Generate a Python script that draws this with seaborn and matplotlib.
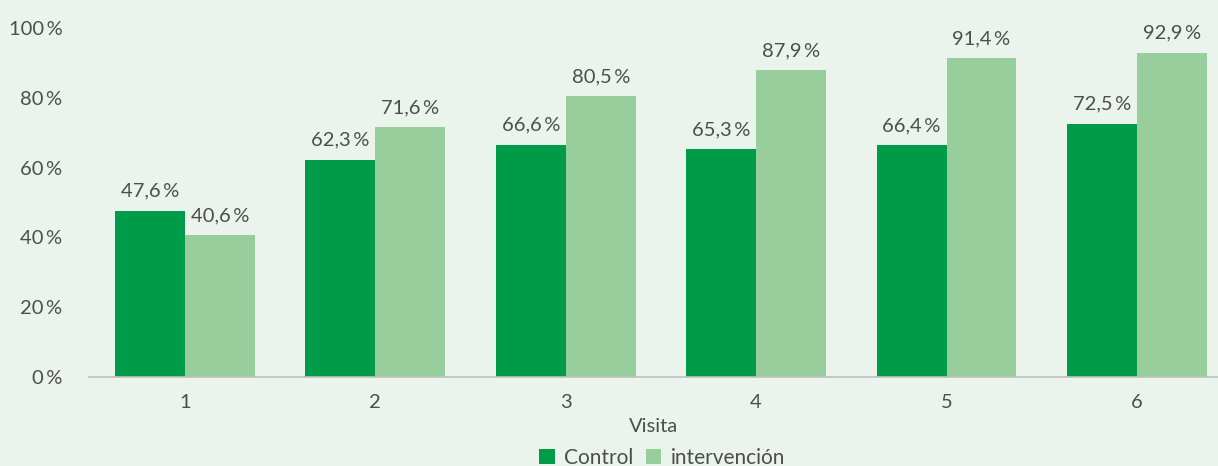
import matplotlib
matplotlib.use('Agg')
import matplotlib.pyplot as plt
import seaborn as sns
import pandas as pd

visits = ['1', '2', '3', '4', '5', '6']
control = [47.6, 62.3, 66.6, 65.3, 66.4, 72.5]
intervencion = [40.6, 71.6, 80.5, 87.9, 91.4, 92.9]
series = ['Control', 'intervención']
y_ticks = [0, 20, 40, 60, 80, 100]

bg = '#EBF4EC'
text_col = '#4D4D4D'
palette = {'Control': '#009B48', 'intervención': '#98CE9C'}

sns.set_style('white')
plt.rcParams['font.family'] = ['Lato', 'DejaVu Sans']

df = pd.DataFrame({'Visita': visits * 2,
                   'serie': [series[0]] * len(visits) + [series[1]] * len(visits),
                   'valor': control + intervencion})

fig = plt.figure(figsize=(12.18, 4.66), dpi=100, facecolor=bg)
ax = fig.add_axes([89 / 1218, 1 - 377 / 466, (1218 - 89) / 1218, (377 - 28) / 466])
ax.set_facecolor(bg)

sns.barplot(data=df, x='Visita', y='valor', hue='serie', palette=palette,
            width=0.735, gap=0, saturation=1, linewidth=0, ax=ax, legend=True)

for cont in ax.containers:
    ax.bar_label(cont, labels=[f'{b.get_height():.1f}'.replace('.', ',') + '\u2009%' for b in cont],
                 padding=8, fontsize=14.5, color=text_col, clip_on=False)

ax.set_ylim(0, 100)
ax.set_xlim(-0.504, 5.426)
ax.set_yticks(y_ticks)
ax.set_yticklabels([f'{t}\u2009%' for t in y_ticks])
ax.tick_params(axis='both', length=0, labelsize=14.5, labelcolor=text_col)
ax.tick_params(axis='y', pad=19)
ax.tick_params(axis='x', pad=12)
ax.set_ylabel('')
ax.set_xlabel('Visita', fontsize=14.5, color=text_col, labelpad=5)

for s in ['top', 'right', 'left']:
    ax.spines[s].set_visible(False)
ax.spines['bottom'].set_color('#BFBFBF')
ax.spines['bottom'].set_linewidth(1.2)

handles, labels = ax.get_legend_handles_labels()
ax.legend_.remove()
fig.legend(handles, labels, loc='center', bbox_to_anchor=(662 / 1218, 1 - 458 / 466),
           ncol=2, frameon=False, fontsize=15, labelcolor=text_col,
           handlelength=0.75, handleheight=0.75, handletextpad=0.45, columnspacing=0.6)

fig.savefig('out.png', dpi=100, facecolor=bg)
